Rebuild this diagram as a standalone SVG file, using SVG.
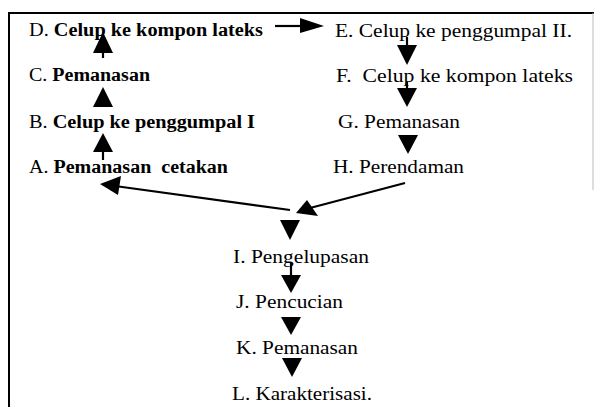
<svg xmlns="http://www.w3.org/2000/svg" width="594" height="407" viewBox="0 0 594 407">
  <style>
    text { font-family: "Liberation Serif", "Times New Roman", serif; font-size: 18.5px; fill: #000; }
    .b { font-weight: bold; }
    .frame { stroke: #000; stroke-width: 2; fill: none; }
    .shaft { stroke: #000; stroke-width: 2.2; fill: none; }
    .head { fill: #000; stroke: none; }
  </style>
  <rect width="594" height="407" fill="#fff"/>

  <!-- frame -->
  <g id="frame">
    <line class="frame" x1="8" y1="13" x2="594" y2="13"/>
    <line class="frame" x1="9" y1="12" x2="9" y2="407"/>
    <line x1="593" y1="13" x2="593" y2="190" stroke="#bbb" stroke-width="1"/>
  </g>

  <!-- left column -->
  <g id="node-D"><text x="29" y="36" textLength="234" lengthAdjust="spacingAndGlyphs">D. <tspan class="b">Celup ke kompon lateks</tspan></text></g>
  <g id="node-C"><text x="29" y="81" textLength="121" lengthAdjust="spacingAndGlyphs">C. <tspan class="b">Pemanasan</tspan></text></g>
  <g id="node-B"><text x="29" y="128" textLength="226" lengthAdjust="spacingAndGlyphs">B. <tspan class="b">Celup ke penggumpal I</tspan></text></g>
  <g id="node-A"><text x="29" y="173" textLength="199" lengthAdjust="spacingAndGlyphs" xml:space="preserve">A. <tspan class="b">Pemanasan  cetakan</tspan></text></g>

  <!-- right column -->
  <g id="node-E"><text x="335" y="37" textLength="237" lengthAdjust="spacingAndGlyphs">E. Celup ke penggumpal II.</text></g>
  <g id="node-F"><text x="336" y="82" textLength="237" lengthAdjust="spacingAndGlyphs" xml:space="preserve">F.  Celup ke kompon lateks</text></g>
  <g id="node-G"><text x="338" y="128" textLength="122" lengthAdjust="spacingAndGlyphs">G. Pemanasan</text></g>
  <g id="node-H"><text x="333" y="173" textLength="131" lengthAdjust="spacingAndGlyphs">H. Perendaman</text></g>

  <!-- lower column -->
  <g id="node-I"><text x="233" y="263" textLength="136" lengthAdjust="spacingAndGlyphs">I. Pengelupasan</text></g>
  <g id="node-J"><text x="236" y="308" textLength="107" lengthAdjust="spacingAndGlyphs">J. Pencucian</text></g>
  <g id="node-K"><text x="236" y="354" textLength="122" lengthAdjust="spacingAndGlyphs">K. Pemanasan</text></g>
  <g id="node-L"><text x="232" y="400" textLength="140" lengthAdjust="spacingAndGlyphs">L. Karakterisasi.</text></g>

  <!-- connectors -->
  <g id="connectors">
    <!-- A -> B -> C -> D (upwards) -->
    <line class="shaft" x1="103" y1="150" x2="103" y2="160"/>
    <polygon class="head" points="103,133 113,152 93,152"/>
    <polygon class="head" points="103,87 113,107 93,107"/>
    <line class="shaft" x1="103" y1="50" x2="103" y2="58"/>
    <polygon class="head" points="103,32 113,53 93,53"/>

    <!-- D -> E -->
    <line class="shaft" x1="275" y1="26" x2="302" y2="26"/>
    <polygon class="head" points="300,18 324,26 300,33"/>

    <!-- E -> F -> G -> H (downwards) -->
    <line class="shaft" x1="407" y1="37" x2="407" y2="47"/>
    <polygon class="head" points="397,45 417,45 407,65"/>
    <line class="shaft" x1="407" y1="82" x2="407" y2="90"/>
    <polygon class="head" points="397,88 417,88 407,107"/>
    <polygon class="head" points="398,135 418,135 408,154"/>

    <!-- H -> junction -->
    <line class="shaft" x1="405" y1="183" x2="310" y2="208"/>
    <polygon class="head" points="296,213 307,200 318,216"/>

    <!-- junction -> A -->
    <line class="shaft" x1="290" y1="210" x2="115" y2="186"/>
    <polygon class="head" points="100,184 121,176 118,195"/>

    <!-- junction -> I -> J -> K -> L -->
    <polygon class="head" points="280,220 300,220 290,240"/>
    <line class="shaft" x1="291" y1="263" x2="291" y2="277"/>
    <polygon class="head" points="281,275 301,275 291,293"/>
    <polygon class="head" points="281,317 301,317 291,335"/>
    <polygon class="head" points="282,358 302,358 292,377"/>
  </g>
</svg>
